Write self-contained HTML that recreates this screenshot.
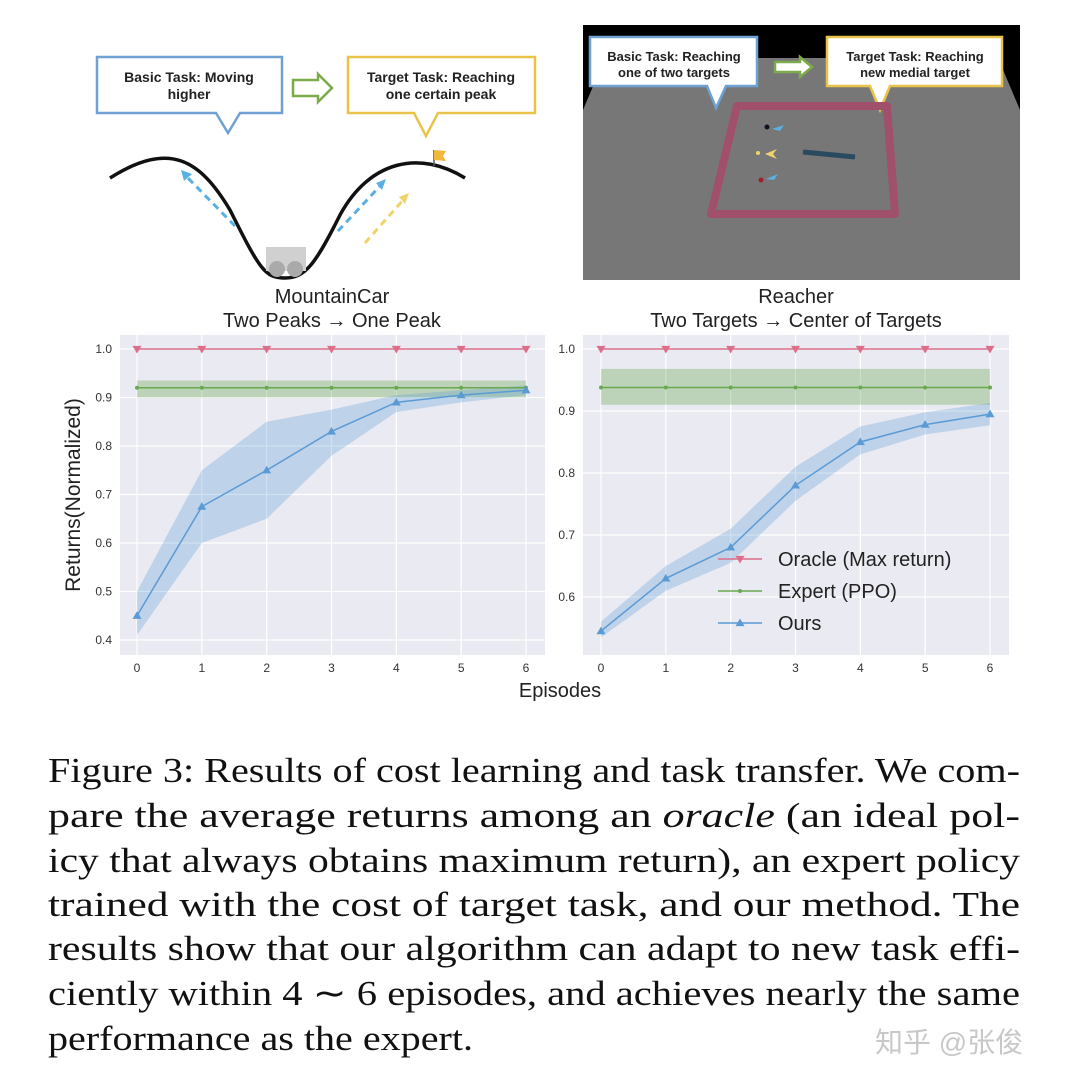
<!DOCTYPE html>
<html><head><meta charset="utf-8"><style>
html,body{margin:0;padding:0;background:#fff;}
svg{display:block}
.cap{font-family:"Liberation Serif","Times New Roman",serif;font-size:35px;fill:#111;}
</style></head><body>
<svg id="fig" width="1072" height="1088" viewBox="0 0 1072 1088" xmlns="http://www.w3.org/2000/svg" font-family="'Liberation Sans', 'DejaVu Sans', sans-serif">
  <rect width="1072" height="1088" fill="#fff"/>
  <g>
    <path d="M97,57 H282 V113 H240 L228,133 L216,113 H97 Z" fill="#fff" stroke="#6fa1d4" stroke-width="2.5"/>
    <text x="189" y="82" font-size="14" font-weight="bold" text-anchor="middle" fill="#222">Basic Task: Moving</text>
    <text x="189" y="99" font-size="14" font-weight="bold" text-anchor="middle" fill="#222">higher</text>
    <path d="M293,80 H318 V74 L332,88 L318,102 V96 H293 Z" fill="#fff" stroke="#7bab4a" stroke-width="2.5"/>
    <path d="M348,57 H535 V113 H438 L426,136 L414,113 H348 Z" fill="#fff" stroke="#e9c24a" stroke-width="2.5"/>
    <text x="441" y="82" font-size="14" font-weight="bold" text-anchor="middle" fill="#222">Target Task: Reaching</text>
    <text x="441" y="99" font-size="14" font-weight="bold" text-anchor="middle" fill="#222">one certain peak</text>
    <path d="M110,178 C170,140 200,160 230,210 C260,270 265,278 285,278 C305,278 315,265 340,215 C370,160 420,150 465,178" fill="none" stroke="#111" stroke-width="3.5"/>
    <rect x="266" y="247" width="40" height="24" fill="#d0d0d0"/>
    <circle cx="277" cy="269" r="8" fill="#aaa"/><circle cx="295" cy="269" r="8" fill="#aaa"/>
    <line x1="235" y1="226" x2="186" y2="176" stroke="#5ab0e0" stroke-width="3" stroke-dasharray="7,5"/>
    <path d="M181,170 L192,174 L184,181 Z" fill="#5ab0e0"/>
    <line x1="338" y1="231" x2="381" y2="185" stroke="#5ab0e0" stroke-width="3" stroke-dasharray="7,5"/>
    <path d="M386,179 L382,190 L376,183 Z" fill="#5ab0e0"/>
    <line x1="365" y1="243" x2="404" y2="199" stroke="#f0d36a" stroke-width="3" stroke-dasharray="7,5"/>
    <path d="M409,193 L405,204 L399,197 Z" fill="#f0d36a"/>
    <line x1="434" y1="166" x2="434" y2="150" stroke="#555" stroke-width="1.5"/>
    <path d="M434,150 L446,151 L443,156 L446,161 L434,160 Z" fill="#f0b83a"/>
  </g>
  <g>
    <rect x="583" y="25" width="437" height="255" fill="#777"/>
    <path d="M583,25 H1020 V58 H583 Z" fill="#000"/>
    <path d="M583,58 L605,58 L583,110 Z" fill="#000"/>
    <path d="M1020,58 L998,58 L1020,110 Z" fill="#000"/>
    <path d="M590,37 H757 V86 H726 L716,108 L707,86 H590 Z" fill="#fff" stroke="#6fa1d4" stroke-width="2.5"/>
    <text x="674" y="61" font-size="13" font-weight="bold" text-anchor="middle" fill="#222">Basic Task: Reaching</text>
    <text x="674" y="77" font-size="13" font-weight="bold" text-anchor="middle" fill="#222">one of two targets</text>
    <path d="M775,62 H800 V57 L812,67 L800,77 V72 H775 Z" fill="#fff" stroke="#7bab4a" stroke-width="2.5"/>
    <path d="M827,37 H1002 V86 H890 L880,110 L870,86 H827 Z" fill="#fff" stroke="#e9c24a" stroke-width="2.5"/>
    <text x="915" y="61" font-size="13" font-weight="bold" text-anchor="middle" fill="#222">Target Task: Reaching</text>
    <text x="915" y="77" font-size="13" font-weight="bold" text-anchor="middle" fill="#222">new medial target</text>
    <path d="M737,106 H887 L895,214 H711 Z" fill="none" stroke="#a0506a" stroke-width="8" stroke-linejoin="round"/>
    <line x1="803" y1="152" x2="855" y2="157" stroke="#2a4a60" stroke-width="5"/>
    <circle cx="767" cy="127" r="2.5" fill="#112"/><path d="M772,129 l12,-4 l-4,6 z" fill="#5ab0e0"/>
    <circle cx="758" cy="153" r="2" fill="#f0d36a"/><path d="M765,154 l12,-5 l-4,5 l4,5 z" fill="#f0d36a"/>
    <circle cx="761" cy="180" r="2.5" fill="#a02030"/><path d="M766,179 l12,-5 l-4,6 z" fill="#5ab0e0"/>
  </g>
  <text x="332" y="303" font-size="20" text-anchor="middle" fill="#222">MountainCar</text>
  <text x="332" y="327" font-size="20" text-anchor="middle" fill="#222">Two Peaks → One Peak</text>
  <text x="796" y="303" font-size="20" text-anchor="middle" fill="#222">Reacher</text>
  <text x="796" y="327" font-size="20" text-anchor="middle" fill="#222">Two Targets → Center of Targets</text>
  <g id="left-chart"></g>
  <g id="right-chart"></g>
  <text transform="translate(80,495) rotate(-90)" font-size="21" text-anchor="middle" fill="#222">Returns(Normalized)</text>
  <text x="560" y="697" font-size="20" text-anchor="middle" fill="#222">Episodes</text>
  <g id="legend"></g>
  <g class="cap">
    <text class="cap" x="48" y="782" textLength="972" lengthAdjust="spacingAndGlyphs">Figure 3: Results of cost learning and task transfer. We com-</text>
    <text class="cap" x="48" y="827" textLength="972" lengthAdjust="spacingAndGlyphs">pare the average returns among an <tspan font-style="italic">oracle</tspan> (an ideal pol-</text>
    <text class="cap" x="48" y="872" textLength="972" lengthAdjust="spacingAndGlyphs">icy that always obtains maximum return), an expert policy</text>
    <text class="cap" x="48" y="916" textLength="972" lengthAdjust="spacingAndGlyphs">trained with the cost of target task, and our method. The</text>
    <text class="cap" x="48" y="960" textLength="972" lengthAdjust="spacingAndGlyphs">results show that our algorithm can adapt to new task effi-</text>
    <text class="cap" x="48" y="1005" textLength="972" lengthAdjust="spacingAndGlyphs">ciently within 4 ∼ 6 episodes, and achieves nearly the same</text>
    <text class="cap" x="48" y="1050" textLength="425" lengthAdjust="spacingAndGlyphs">performance as the expert.</text>
  </g>
  <text x="875" y="1052" font-size="28" fill="#c8c8c8" font-family="'Liberation Sans', 'Noto Sans CJK SC', sans-serif">知乎 @张俊</text>
</svg>
<script>
const episodes = [0,1,2,3,4,5,6];
const leftOracle = [1,1,1,1,1,1,1];
const leftExpert = [0.92,0.92,0.92,0.92,0.92,0.92,0.92];
const leftExpertLo = [0.90,0.90,0.90,0.90,0.90,0.90,0.90];
const leftExpertHi = [0.935,0.935,0.935,0.935,0.935,0.935,0.935];
const leftOurs = [0.45,0.675,0.75,0.83,0.89,0.905,0.915];
const leftOursLo = [0.41,0.60,0.65,0.78,0.87,0.89,0.905];
const leftOursHi = [0.50,0.75,0.85,0.875,0.905,0.915,0.925];
const leftYTicks = [0.4,0.5,0.6,0.7,0.8,0.9,1.0];
const rightOracle = [1,1,1,1,1,1,1];
const rightExpert = [0.938,0.938,0.938,0.938,0.938,0.938,0.938];
const rightExpertLo = [0.91,0.91,0.91,0.91,0.91,0.91,0.91];
const rightExpertHi = [0.968,0.968,0.968,0.968,0.968,0.968,0.968];
const rightOurs = [0.545,0.63,0.68,0.78,0.85,0.878,0.895];
const rightOursLo = [0.535,0.61,0.655,0.755,0.83,0.862,0.877];
const rightOursHi = [0.56,0.65,0.71,0.81,0.875,0.898,0.913];
const rightYTicks = [0.6,0.7,0.8,0.9,1.0];
const legendLabels = ["Oracle (Max return)","Expert (PPO)","Ours"];

const NS = "http://www.w3.org/2000/svg";
const RED="#dd6e8a", GREEN="#6aa84f", BLUE="#5b9bd5";
function mk(parent, tag, attrs){const e=document.createElementNS(NS,tag);for(const k in attrs)e.setAttribute(k,attrs[k]);parent.appendChild(e);return e;}
function triDown(x,y,s){return `M${x-s},${y-s*0.7} L${x+s},${y-s*0.7} L${x},${y+s} Z`;}
function triUp(x,y,s){return `M${x-s},${y+s*0.7} L${x+s},${y+s*0.7} L${x},${y-s} Z`;}

function drawChart(g, cfg){
  const xs = v => cfg.x0 + (cfg.x6-cfg.x0)*v/6;
  const ys = v => cfg.y1 + (1-v)*cfg.pp;
  const bg = mk(g,'rect',{x:cfg.left,y:cfg.top,width:cfg.right-cfg.left,height:cfg.bottom-cfg.top,fill:'#eaeaf2'});
  
  
  cfg.yt.forEach(t=>{
    const l=mk(g,'line',{x1:cfg.left,x2:cfg.right,y1:ys(t),y2:ys(t),stroke:'#fff','stroke-width':1.2});
    
    
    const tx=mk(g,'text',{x:cfg.left-8,y:ys(t)+4,'font-size':12,'text-anchor':'end',fill:'#333'});
    tx.textContent=t.toFixed(1);
    
    
  });
  episodes.forEach(e=>{
    const l=mk(g,'line',{x1:xs(e),x2:xs(e),y1:cfg.top,y2:cfg.bottom,stroke:'#fff','stroke-width':1.2});
    
    
    const tx=mk(g,'text',{x:xs(e),y:cfg.bottom+17,'font-size':12,'text-anchor':'middle',fill:'#333'});
    tx.textContent=e;
    
    
  });
  function band(lo,hi,color,op,name){
    let d='M'+episodes.map(e=>xs(e)+','+ys(hi[e])).join(' L');
    d+=' L'+episodes.slice().reverse().map(e=>xs(e)+','+ys(lo[e])).join(' L')+' Z';
    const p=mk(g,'path',{d:d,fill:color,'fill-opacity':op});
    
    
  }
  function line(vals,color,name){
    const p=mk(g,'polyline',{points:episodes.map(e=>xs(e)+','+ys(vals[e])).join(' '),fill:'none',stroke:color,'stroke-width':1.5});
    
    
  }
  band(cfg.eLo,cfg.eHi,GREEN,0.35,'expert-band');
  band(cfg.oLo,cfg.oHi,BLUE,0.3,'ours-band');
  line(cfg.oracle,RED,'oracle-line');
  line(cfg.expert,GREEN,'expert-line');
  line(cfg.ours,BLUE,'ours-line');
  episodes.forEach(e=>{
    const a=mk(g,'path',{d:triDown(xs(e),ys(cfg.oracle[e]),4.5),fill:RED});
    
    
    const b=mk(g,'circle',{cx:xs(e),cy:ys(cfg.expert[e]),r:2,fill:GREEN});
    
    
    const c=mk(g,'path',{d:triUp(xs(e),ys(cfg.ours[e]),4.5),fill:BLUE});
    
    
  });
}
drawChart(document.getElementById('left-chart'),{left:120,right:545,top:335,bottom:655,x0:137,x6:526,y1:349,pp:485,yt:leftYTicks,
  oracle:leftOracle,expert:leftExpert,eLo:leftExpertLo,eHi:leftExpertHi,ours:leftOurs,oLo:leftOursLo,oHi:leftOursHi});
drawChart(document.getElementById('right-chart'),{left:583,right:1009,top:335,bottom:655,x0:601,x6:990,y1:349,pp:620,yt:rightYTicks,
  oracle:rightOracle,expert:rightExpert,eLo:rightExpertLo,eHi:rightExpertHi,ours:rightOurs,oLo:rightOursLo,oHi:rightOursHi});

const lg=document.getElementById('legend');
const lcol=[RED,GREEN,BLUE];
legendLabels.forEach((t,i)=>{
  const y=559+i*32;
  const l=mk(lg,'line',{x1:718,x2:762,y1:y,y2:y,stroke:lcol[i],'stroke-width':1.5});
  
  
  const m = i===0? mk(lg,'path',{d:triDown(740,y,4.5),fill:RED}) : i===1? mk(lg,'circle',{cx:740,cy:y,r:2,fill:GREEN}) : mk(lg,'path',{d:triUp(740,y,4.5),fill:BLUE});
  
  
  const tx=mk(lg,'text',{x:778,y:y+7,'font-size':20,fill:'#222'});
  tx.textContent=t;
  
  
});
</script>
</body></html>
